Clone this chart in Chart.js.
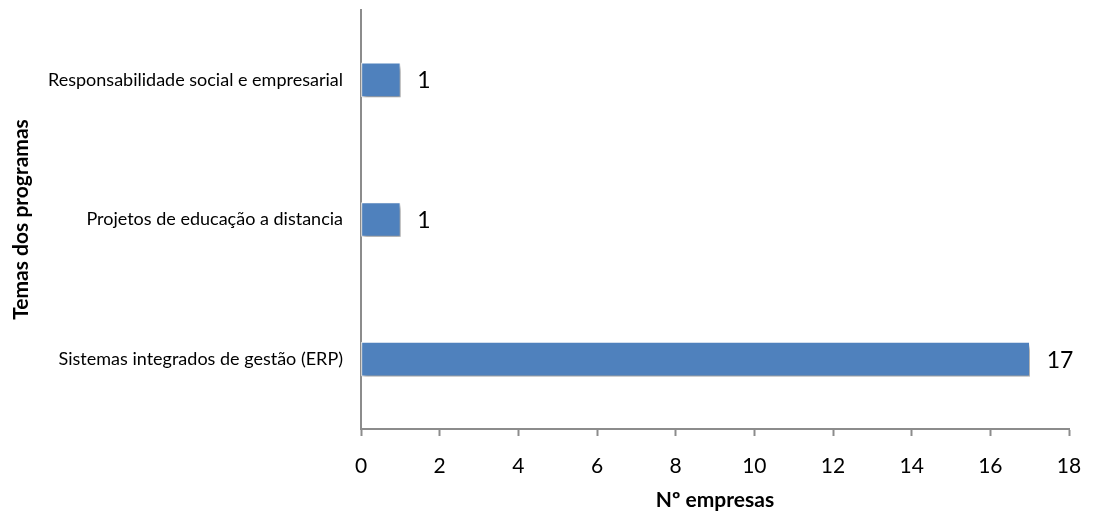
<!DOCTYPE html>
<html>
<head>
<meta charset="utf-8">
<script src="https://cdn.jsdelivr.net/npm/chart.js@4.4.0/dist/chart.umd.min.js"></script>
<style>
  html, body { margin: 0; padding: 0; background: #fff; }
  #wrap { width: 1098px; height: 515px; }
</style>
</head>
<body>
<div id="wrap"><canvas id="barChart" width="1098" height="515"></canvas></div>
<script>
const temas = ['Responsabilidade social e empresarial', 'Projetos de educação a distancia', 'Sistemas integrados de gestão (ERP)']
const empresas = [1, 1, 17]
const xTicks = [0, 2, 4, 6, 8, 10, 12, 14, 16, 18]

const FONT = 'Lato, "Open Sans", sans-serif'
const axisGray = '#8c8c8c'

// sombra das barras
const shadowPlugin = {
    id: 'shadow',
    beforeDatasetsDraw(chart) {
        const ctx = chart.ctx
        ctx.save()
        ctx.shadowColor = 'rgba(0,0,0,0.4)'
        ctx.shadowBlur = 4
        ctx.shadowOffsetX = 2
        ctx.shadowOffsetY = 4
    },
    afterDatasetsDraw(chart) {
        chart.ctx.restore()
    }
}

// rótulos de valor à direita das barras
const valueLabels = {
    id: 'valueLabels',
    afterDatasetsDraw(chart) {
        const ctx = chart.ctx
        const meta = chart.getDatasetMeta(0)
        ctx.save()
        ctx.fillStyle = '#000'
        ctx.font = '23px ' + FONT
        ctx.textAlign = 'left'
        ctx.textBaseline = 'middle'
        meta.data.forEach((bar, i) => {
            ctx.fillText(String(empresas[i]), bar.x + 17, bar.y + 1)
        })
        ctx.restore()
    }
}

const ctx = document.getElementById('barChart').getContext('2d')
new Chart(ctx, {
    type: 'bar',
    data: {
        labels: temas,
        datasets: [{
            data: empresas,
            backgroundColor: '#4F81BD',
            borderColor: '#ffffff',
            borderWidth: 1,
            borderSkipped: false,
            barThickness: 34
        }]
    },
    options: {
        indexAxis: 'y',
        responsive: false,
        animation: false,
        layout: {padding: {top: 10, right: 29, left: 0, bottom: 0}},
        plugins: {
            legend: {display: false},
            tooltip: {enabled: false}
        },
        scales: {
            x: {
                min: 0,
                max: 18,
                afterBuildTicks: (scale) => {
                    scale.ticks = xTicks.map(v => ({value: v}))
                },
                afterFit: (scale) => {
                    scale.height = 86
                    scale.paddingLeft = 0
                    scale.paddingRight = 29
                },
                grid: {
                    display: true,
                    drawOnChartArea: false,
                    drawTicks: true,
                    tickLength: 7,
                    tickWidth: 2,
                    tickColor: axisGray
                },
                border: {display: true, color: axisGray, width: 2},
                ticks: {
                    color: '#000',
                    padding: 18,
                    font: {family: FONT, size: 21}
                },
                title: {
                    display: true,
                    text: 'Nº empresas',
                    color: '#000',
                    font: {family: FONT, size: 21, weight: 'bold'},
                    padding: {top: 0, bottom: 2}
                }
            },
            y: {
                afterFit: (scale) => {
                    scale.width = 361
                    scale.paddingTop = 10
                    scale.paddingBottom = 0
                },
                grid: {display: false},
                border: {display: true, color: axisGray, width: 2},
                ticks: {
                    color: '#000',
                    padding: 10,
                    font: {family: FONT, size: 18}
                },
                title: {
                    display: true,
                    text: 'Temas dos programas',
                    color: '#000',
                    font: {family: FONT, size: 21, weight: 'bold'},
                    padding: {top: 9, bottom: 0}
                }
            }
        }
    },
    plugins: [shadowPlugin, valueLabels]
})
</script>
</body>
</html>
